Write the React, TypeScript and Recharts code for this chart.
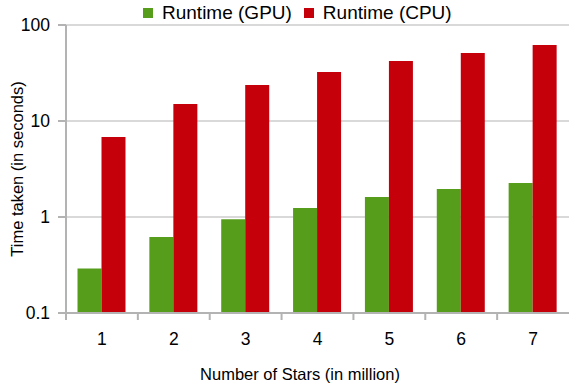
import { BarChart, Bar, XAxis, YAxis, CartesianGrid, Legend, Label } from 'recharts'

// number of stars (millions) on the x axis
const stars = ['1', '2', '3', '4', '5', '6', '7']
// runtime in seconds
const gpuTime = [0.29, 0.62, 0.95, 1.24, 1.62, 1.96, 2.26]
const cpuTime = [6.8, 15.0, 23.7, 32.4, 42.2, 51.1, 61.9]
const yTicks = [0.1, 1, 10, 100]
const seriesNames = ['Runtime (GPU)', 'Runtime (CPU)']

const GPU_COLOR = '#579d1c'
const CPU_COLOR = '#c5000b'
const AXIS_COLOR = '#b3b3b3'
const GRID_COLOR = '#cccccc'
const FONT = '"Liberation Sans", Arial, sans-serif'

const data = stars.map((s, i) => ({ stars: s, gpu: gpuTime[i], cpu: cpuTime[i] }))

// category label plus a tick mark on the left boundary of each band
function StarTick(props: any) {
  const { x, y, payload } = props
  const half = payload.offset || 36
  return (
    <g>
      <line x1={x - half} x2={x - half} y1={y} y2={y + 7} stroke={AXIS_COLOR} strokeWidth={2} />
      <text x={x} y={y + 32} textAnchor="middle" fontSize={17.5} fill="#000" fontFamily={FONT}>
        {payload.value}
      </text>
    </g>
  )
}

function LegendBox(props: any) {
  // keep series order instead of the default alphabetical sort
  const items = [...(props.payload || [])].sort(
    (a: any, b: any) => seriesNames.indexOf(a.value) - seriesNames.indexOf(b.value)
  )
  return (
    <div style={{ display: 'flex', alignItems: 'center', fontFamily: FONT, fontSize: 19, color: '#000', paddingLeft: 143, height: 25 }}>
      {items.map((it: any) => (
        <div key={it.value} style={{ display: 'flex', alignItems: 'center', marginRight: 12 }}>
          <span style={{ width: 10, height: 10, background: it.color, display: 'inline-block', marginRight: 9 }} />
          <span>{it.value}</span>
        </div>
      ))}
    </div>
  )
}

export default function App() {
  return (
    <div style={{ position: 'absolute', left: 0, top: 0, width: 569, height: 385, background: '#fff', fontFamily: FONT }}>
      <BarChart
        width={569}
        height={385}
        data={data}
        margin={{ top: 25, right: 0, bottom: 0, left: 0 }}
        barCategoryGap="16%"
        barGap={0}
      >
        <CartesianGrid horizontal vertical={false} stroke={GRID_COLOR} strokeWidth={1.5} />
        <XAxis
          dataKey="stars"
          height={72}
          axisLine={{ stroke: AXIS_COLOR, strokeWidth: 2 }}
          tickLine={false}
          tickSize={0}
          tickMargin={0}
          tick={<StarTick />}
          interval={0}
        >
          <Label
            content={() => (
              <text x={300} y={380} textAnchor="middle" fontSize={16.5} fill="#000" fontFamily={FONT}>
                Number of Stars (in million)
              </text>
            )}
          />
        </XAxis>
        <YAxis
          scale="log"
          domain={[0.1, 100]}
          ticks={yTicks}
          allowDataOverflow
          width={66}
          axisLine={{ stroke: AXIS_COLOR, strokeWidth: 2 }}
          tickLine={{ stroke: AXIS_COLOR, strokeWidth: 2 }}
          tickSize={8}
          tickMargin={8}
          tick={{ fontSize: 17.5, fill: '#000', fontFamily: FONT }}
        >
          <Label
            content={() => (
              <text
                x={17}
                y={169}
                transform="rotate(-90, 17, 169)"
                textAnchor="middle"
                dominantBaseline="central"
                fontSize={16.5}
                fill="#000"
                fontFamily={FONT}
              >
                Time taken (in seconds)
              </text>
            )}
          />
        </YAxis>
        <Legend
          layout="horizontal"
          verticalAlign="middle"
          align="center"
          wrapperStyle={{ top: 0, left: 0, width: 569 }}
          content={<LegendBox />}
        />
        <Bar dataKey="gpu" name="Runtime (GPU)" fill={GPU_COLOR} isAnimationActive={false} />
        <Bar dataKey="cpu" name="Runtime (CPU)" fill={CPU_COLOR} isAnimationActive={false} />
      </BarChart>
    </div>
  )
}
